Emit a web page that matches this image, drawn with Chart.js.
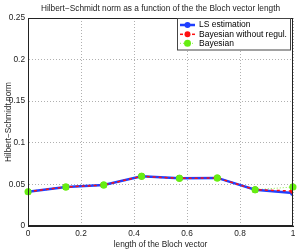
<!DOCTYPE html>
<html><head><meta charset="utf-8">
<script src="https://cdn.jsdelivr.net/npm/chart.js@4/dist/chart.umd.min.js"></script>
<style>html,body{margin:0;padding:0;background:#fff}#wrap{width:300px;height:249px}</style>
</head><body><div id="wrap"><canvas id="c" width="300" height="249"></canvas></div>
<script>
const xValues = [0, 1/7, 2/7, 3/7, 4/7, 5/7, 6/7, 1];
const lsValues = [0.0412, 0.0469, 0.0492, 0.0597, 0.0573, 0.0578, 0.0436, 0.0396];
const bayesNoRegValues = [0.0412, 0.0469, 0.0492, 0.0597, 0.0573, 0.0578, 0.0436, 0.0420];
const bayesValues = [0.0412, 0.0469, 0.0492, 0.0597, 0.0573, 0.0578, 0.0436, 0.0469];
const seriesLabels = ['LS estimation', 'Bayesian without regul.', 'Bayesian'];
const chartTitle = 'Hilbert−Schmidt norm as a function of the the Bloch vector length';
const xTicks = [0, 0.2, 0.4, 0.6, 0.8, 1];
const yTicks = [0, 0.05, 0.1, 0.15, 0.2, 0.25];
const FONT = "'Liberation Sans', Arial, sans-serif";

function pts(vals){ return vals.map((v,i)=>({x:xValues[i], y:v})); }

const boxPlugin = {
  id:'box',
  afterDatasetsDraw(chart){
    const ctx = chart.ctx;
    const meta = chart.getDatasetMeta(2);
    ctx.save();
    meta.data.forEach(p=>p.draw(ctx, chart.chartArea));
    ctx.restore();
    const a = chart.chartArea;
    ctx.save();
    ctx.strokeStyle = '#222';
    ctx.lineWidth = 1;
    ctx.setLineDash([]);
    ctx.strokeRect(Math.round(a.left)+0.5, Math.round(a.top)+0.5, Math.round(a.right-a.left)-1, Math.round(a.bottom-a.top)-1);
    ctx.fillStyle = '#222';
    ctx.font = '8.3px ' + FONT;
    ctx.textAlign = 'center';
    ctx.textBaseline = 'middle';
    ctx.fillText(chartTitle, (a.left+a.right)/2, 9);
    const lx = 177.5, ly = 18.5, lw = 113, lh = 31.5;
    ctx.fillStyle = '#fff';
    ctx.fillRect(lx, ly, lw, lh);
    ctx.strokeStyle = '#444';
    ctx.strokeRect(lx, ly, lw, lh);
    const rows = [25, 34.3, 43.3];
    chart.data.datasets.forEach((ds,i)=>{
      const y = rows[i];
      ctx.strokeStyle = ds.borderColor;
      ctx.lineWidth = ds.borderWidth;
      ctx.setLineDash(ds.borderDash || []);
      ctx.beginPath(); ctx.moveTo(180, y); ctx.lineTo(195, y); ctx.stroke();
      ctx.setLineDash([]);
      ctx.fillStyle = ds.pointBackgroundColor;
      ctx.beginPath(); ctx.arc(187.5, y, ds.pointRadius, 0, Math.PI*2); ctx.fill();
      ctx.fillStyle = '#000';
      ctx.font = '8.5px ' + FONT;
      ctx.textBaseline = 'middle';
      ctx.textAlign = 'left';
      ctx.fillText(ds.label, 199, y);
    });
    ctx.restore();
  }
};

new Chart(document.getElementById('c'), {
  type:'line',
  data:{
    datasets:[
      {label:seriesLabels[0], data:pts(lsValues), borderColor:'#1f3fff', backgroundColor:'#1f3fff', pointBackgroundColor:'#1f3fff', pointBorderWidth:0, borderWidth:2.5, pointRadius:3, order:2},
      {label:seriesLabels[1], data:pts(bayesNoRegValues), borderColor:'#ff1010', backgroundColor:'#ff1010', pointBackgroundColor:'#ff1010', pointBorderWidth:0, borderWidth:1.5, borderDash:[3,3], pointRadius:3, order:1},
      {label:seriesLabels[2], data:pts(bayesValues), borderColor:'#88ee44', backgroundColor:'#66ee11', pointBackgroundColor:'#66ee11', pointBorderWidth:0, borderWidth:1, borderDash:[1,2], pointRadius:3.5, order:3}
    ]
  },
  options:{
    responsive:false, animation:false, devicePixelRatio:1,
    layout:{padding:{left:0, right:7, top:18, bottom:0}},
    plugins:{ legend:{display:false}, tooltip:{enabled:false}, title:{display:false} },
    elements:{line:{tension:0}},
    scales:{
      x:{type:'linear', min:0, max:1,
        afterBuildTicks(s){ s.ticks = xTicks.map(v=>({value:v})); },
        ticks:{color:'#222', font:{family:FONT, size:8.3}, padding:3, maxRotation:0, callback:v=>String(+v.toFixed(2))},
        grid:{color:'#b0b0b0', drawTicks:false, tickLength:0, lineWidth:1},
        border:{display:true, color:'#222', dash:[1,2]},
        title:{display:true, text:'length of the Bloch vector', color:'#222', font:{family:FONT, size:8.3}, padding:{top:0, bottom:-1}},
        afterFit(s){ s.height = 23; }
      },
      y:{type:'linear', min:0, max:0.25,
        afterBuildTicks(s){ s.ticks = yTicks.map(v=>({value:v})); },
        ticks:{color:'#222', font:{family:FONT, size:8.3}, padding:3, callback:v=>String(+v.toFixed(2))},
        grid:{color:'#b0b0b0', drawTicks:false, tickLength:0, lineWidth:1},
        border:{display:true, color:'#222', dash:[1,2]},
        title:{display:true, text:'Hilbert−Schmidt norm', color:'#222', font:{family:FONT, size:8.3}, padding:{top:4, bottom:0}},
        afterFit(s){ s.width = 28; }
      }
    }
  },
  plugins:[boxPlugin]
});
</script></body></html>
